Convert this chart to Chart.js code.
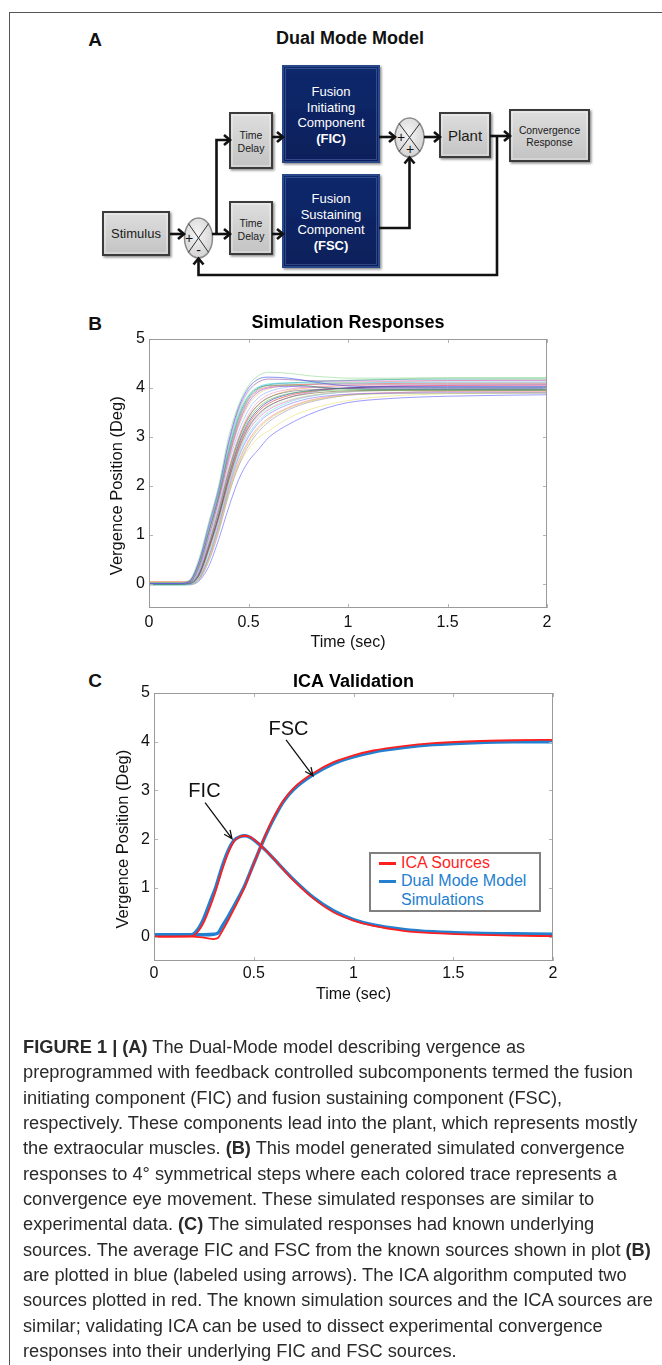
<!DOCTYPE html>
<html>
<head>
<meta charset="utf-8">
<script src="https://cdn.jsdelivr.net/npm/chart.js@4.4.1/dist/chart.umd.min.js"></script>
<style>
  html, body { margin: 0; padding: 0; background: #fff; }
  body { width: 662px; height: 1365px; position: relative; overflow: hidden;
         font-family: 'Liberation Sans', Arial, sans-serif; color: #111; }
  .frame-top { position: absolute; left: 9px; top: 12px; right: 0; border-top: 1.5px solid #555; }
  .frame-left { position: absolute; left: 9px; top: 12px; bottom: 0; border-left: 1.5px solid #555; }
  .plabel { position: absolute; font-weight: bold; font-size: 19px; line-height: 20px;
            transform: translate(-50%, -50%); }
  .ptitle { position: absolute; font-weight: bold; font-size: 18px; line-height: 20px;
            transform: translate(-50%, -50%); white-space: nowrap; }
  canvas { position: absolute; }
  #legendC { position: absolute; left: 369px; top: 852px; width: 172px; height: 60px;
             box-sizing: border-box; border: 2px solid #808080; background: #fff; }
  #legendC .sw { position: absolute; left: 8px; width: 17px; height: 3px; }
  #legendC .tx { position: absolute; left: 30px; font-size: 16px; line-height: 18px; white-space: nowrap; }
  #caption { position: absolute; left: 23px; top: 1035px; font-size: 18px; color: #2a2a2a; }
  #caption div { height: 25.33px; line-height: 25.33px; white-space: nowrap; transform-origin: 0 50%; }
</style>
</head>
<body>
<div class="frame-top"></div>
<div class="frame-left"></div>

<div class="plabel" style="left:95px;top:40px">A</div>
<div class="ptitle" style="left:350px;top:38px">Dual Mode Model</div>
<svg id="diagram" width="662" height="300" style="position:absolute;left:0;top:0"></svg>

<div class="plabel" style="left:95px;top:324px">B</div>
<canvas id="chartB" width="460" height="360" style="left:100px;top:300px"></canvas>

<div class="plabel" style="left:95px;top:681px">C</div>
<canvas id="chartC" width="460" height="360" style="left:104px;top:660px"></canvas>
<div id="legendC">
  <div class="sw" style="top:8px;background:#ff1f1f"></div>
  <div class="tx" style="top:0px;color:#ff1f1f">ICA Sources</div>
  <div class="sw" style="top:26px;background:#2380d0"></div>
  <div class="tx" style="top:18px;color:#2380d0">Dual Mode Model</div>
  <div class="tx" style="top:37px;color:#2380d0">Simulations</div>
</div>

<div id="caption"></div>

<script>
// ---------- panel B: simulated convergence traces ----------
const B_TIMES = [0, 0.15, 0.2, 0.25, 0.3, 0.35, 0.4, 0.45, 0.5, 0.55, 0.6, 0.7, 0.8, 0.9, 1.0, 1.2, 1.5, 2.0];
const B_TRACES = [
  [0.02, 0.02, 0.06, 0.5, 1.25, 2.0, 3.0, 3.65, 4.05, 4.25, 4.32, 4.3, 4.25, 4.22, 4.2, 4.2, 4.21, 4.21],
  [0.0, 0.0, 0.04, 0.45, 1.2, 1.95, 2.9, 3.6, 4.0, 4.18, 4.22, 4.2, 4.14, 4.08, 4.04, 4.02, 4.02, 4.02],
  [0.0, 0.0, 0.03, 0.42, 1.15, 1.9, 2.85, 3.55, 3.95, 4.12, 4.18, 4.17, 4.15, 4.14, 4.14, 4.14, 4.15, 4.15],
  [0.01, 0.01, 0.03, 0.4, 1.1, 1.85, 2.75, 3.45, 3.85, 4.02, 4.08, 4.1, 4.1, 4.1, 4.1, 4.11, 4.12, 4.12],
  [-0.02, -0.02, 0.0, 0.35, 1.05, 1.8, 2.7, 3.4, 3.82, 4.0, 4.05, 4.06, 4.04, 4.0, 3.98, 3.97, 3.97, 3.97],
  [0.03, 0.03, 0.05, 0.38, 1.05, 1.75, 2.6, 3.3, 3.75, 3.95, 4.02, 4.06, 4.07, 4.08, 4.08, 4.09, 4.1, 4.1],
  [0.0, 0.0, 0.02, 0.3, 0.95, 1.7, 2.55, 3.25, 3.7, 3.92, 4.0, 4.03, 4.02, 4.0, 3.99, 3.98, 3.98, 3.98],
  [0.04, 0.04, 0.05, 0.33, 0.98, 1.7, 2.5, 3.2, 3.65, 3.88, 3.98, 4.05, 4.08, 4.1, 4.11, 4.13, 4.15, 4.16],
  [-0.03, -0.03, -0.02, 0.25, 0.9, 1.6, 2.45, 3.1, 3.55, 3.8, 3.92, 4.02, 4.06, 4.08, 4.08, 4.08, 4.08, 4.08],
  [0.0, 0.0, 0.01, 0.25, 0.85, 1.55, 2.35, 3.0, 3.45, 3.72, 3.86, 3.97, 4.02, 4.04, 4.05, 4.06, 4.06, 4.06],
  [0.02, 0.02, 0.03, 0.22, 0.8, 1.5, 2.3, 2.95, 3.4, 3.66, 3.8, 3.92, 3.96, 3.98, 3.99, 4.0, 4.0, 4.0],
  [-0.01, -0.01, 0.0, 0.2, 0.78, 1.45, 2.25, 2.9, 3.35, 3.6, 3.75, 3.88, 3.93, 3.95, 3.96, 3.96, 3.96, 3.96],
  [0.0, 0.0, 0.0, 0.18, 0.75, 1.4, 2.2, 2.85, 3.3, 3.56, 3.72, 3.87, 3.94, 3.98, 4.0, 4.02, 4.02, 4.02],
  [0.01, 0.01, 0.01, 0.18, 0.72, 1.38, 2.15, 2.8, 3.25, 3.52, 3.68, 3.84, 3.92, 3.97, 4.0, 4.03, 4.05, 4.06],
  [0.0, 0.0, 0.0, 0.16, 0.7, 1.35, 2.1, 2.75, 3.2, 3.47, 3.63, 3.8, 3.88, 3.92, 3.94, 3.95, 3.95, 3.95],
  [-0.04, -0.04, -0.04, 0.12, 0.65, 1.3, 2.05, 2.7, 3.15, 3.42, 3.58, 3.75, 3.84, 3.89, 3.92, 3.94, 3.95, 3.95],
  [0.02, 0.02, 0.02, 0.14, 0.66, 1.3, 2.05, 2.68, 3.12, 3.38, 3.55, 3.73, 3.83, 3.89, 3.92, 3.95, 3.96, 3.96],
  [0.0, 0.0, 0.0, 0.12, 0.6, 1.25, 2.0, 2.62, 3.05, 3.32, 3.5, 3.7, 3.82, 3.88, 3.92, 3.96, 3.98, 3.99],
  [0.0, 0.0, 0.0, 0.1, 0.55, 1.2, 1.95, 2.58, 3.0, 3.28, 3.46, 3.66, 3.78, 3.84, 3.87, 3.89, 3.9, 3.9],
  [0.03, 0.03, 0.03, 0.1, 0.52, 1.15, 1.9, 2.5, 2.92, 3.2, 3.38, 3.6, 3.74, 3.82, 3.87, 3.9, 3.92, 3.92],
  [0.0, 0.0, 0.0, 0.08, 0.48, 1.1, 1.85, 2.45, 2.88, 3.16, 3.35, 3.58, 3.72, 3.8, 3.85, 3.88, 3.89, 3.89],
  [-0.02, -0.02, -0.02, 0.06, 0.45, 1.05, 1.8, 2.4, 2.82, 3.1, 3.3, 3.55, 3.7, 3.79, 3.85, 3.9, 3.93, 3.94],
  [0.02, 0.02, 0.02, 0.1, 0.5, 1.1, 1.85, 2.4, 2.75, 2.98, 3.12, 3.38, 3.55, 3.66, 3.74, 3.83, 3.88, 3.91],
  [-0.02, -0.02, -0.02, 0.05, 0.35, 0.9, 1.55, 2.12, 2.5, 2.74, 2.98, 3.25, 3.45, 3.6, 3.7, 3.78, 3.83, 3.86],
  [0.01, 0.01, 0.03, 0.36, 1.05, 1.78, 2.65, 3.35, 3.78, 3.98, 4.06, 4.1, 4.12, 4.14, 4.15, 4.17, 4.18, 4.18],
  [0.0, 0.0, 0.04, 0.4, 1.1, 1.85, 2.8, 3.5, 3.92, 4.12, 4.18, 4.17, 4.15, 4.15, 4.16, 4.18, 4.2, 4.2],
  [0.0, 0.0, 0.0, 0.2, 0.8, 1.5, 2.3, 2.95, 3.4, 3.65, 3.8, 3.94, 4.0, 4.03, 4.05, 4.07, 4.08, 4.08],
  [0.01, 0.01, 0.01, 0.15, 0.68, 1.33, 2.1, 2.72, 3.18, 3.45, 3.62, 3.8, 3.9, 3.96, 4.0, 4.04, 4.06, 4.06]
];
const B_COLORS = ['#8fd88f', '#3050e8', '#c860d8', '#40c8e0', '#2e8b57', '#f06060', '#9050e0',
  '#f0c070', '#80b0ff', '#f090c0', '#707070', '#60c060', '#2030a0', '#e03030', '#707030',
  '#b0e8a0', '#e070e0', '#60e0d0', '#7878ff', '#ff8080', '#c0d050', '#a090c0', '#e8e070',
  '#5a5aff', '#30a0a0', '#a0e0a0', '#f0a050', '#b070f0'];

// ---------- panel C: FIC / FSC sources ----------
const FIC_TIMES = [0, 0.19, 0.22, 0.25, 0.28, 0.31, 0.34, 0.37, 0.4, 0.43, 0.455, 0.48, 0.52, 0.56, 0.6, 0.65, 0.7, 0.8, 0.9, 1.0, 1.1, 1.25, 1.4, 1.6, 1.8, 2.0];
const FIC_ICA = [0.0, 0.01, 0.1, 0.3, 0.6, 0.95, 1.35, 1.7, 1.95, 2.05, 2.07, 2.05, 1.93, 1.77, 1.6, 1.37, 1.15, 0.78, 0.5, 0.33, 0.22, 0.12, 0.07, 0.04, 0.02, 0.01];
const FIC_MODEL = [0.04, 0.04, 0.15, 0.38, 0.7, 1.02, 1.42, 1.75, 1.97, 2.05, 2.07, 2.04, 1.92, 1.77, 1.6, 1.38, 1.17, 0.8, 0.53, 0.35, 0.24, 0.15, 0.1, 0.07, 0.06, 0.05];
const FSC_TIMES = [0, 0.19, 0.25, 0.3, 0.32, 0.34, 0.37, 0.4, 0.43, 0.455, 0.48, 0.52, 0.56, 0.6, 0.65, 0.7, 0.8, 0.9, 1.0, 1.1, 1.25, 1.4, 1.6, 1.8, 2.0];
const FSC_ICA = [0.0, 0.0, -0.02, -0.05, -0.03, 0.1, 0.32, 0.56, 0.8, 1.02, 1.28, 1.7, 2.1, 2.45, 2.8, 3.05, 3.36, 3.58, 3.72, 3.82, 3.91, 3.97, 4.01, 4.03, 4.04];
const FSC_MODEL = [0.04, 0.04, 0.04, 0.05, 0.07, 0.2, 0.4, 0.62, 0.85, 1.05, 1.3, 1.7, 2.08, 2.42, 2.78, 3.02, 3.33, 3.55, 3.69, 3.79, 3.88, 3.94, 3.98, 4.0, 4.0];

// shared axes
const X_RANGE = [0, 2];
const X_TICKS = [0, 0.5, 1, 1.5, 2];
const Y_RANGE = [-0.5, 5];
const Y_TICKS = [0, 1, 2, 3, 4, 5];

// annotation labels in panel C: [text, labelX, labelY, arrowFromX, arrowFromY, arrowToX, arrowToY]
const C_NOTES = [
  ['FIC', 0.253, 2.97, 0.256, 2.75, 0.391, 2.01],
  ['FSC', 0.674, 4.26, 0.662, 4.04, 0.797, 3.30]
];

const CAPTION = [
  '<b>FIGURE 1 | (A)</b> The Dual-Mode model describing vergence as',
  'preprogrammed with feedback controlled subcomponents termed the fusion',
  'initiating component (FIC) and fusion sustaining component (FSC),',
  'respectively. These components lead into the plant, which represents mostly',
  'the extraocular muscles. <b>(B)</b> This model generated simulated convergence',
  'responses to 4° symmetrical steps where each colored trace represents a',
  'convergence eye movement. These simulated responses are similar to',
  'experimental data. <b>(C)</b> The simulated responses had known underlying',
  'sources. The average FIC and FSC from the known sources shown in plot <b>(B)</b>',
  'are plotted in blue (labeled using arrows). The ICA algorithm computed two',
  'sources plotted in red. The known simulation sources and the ICA sources are',
  'similar; validating ICA can be used to dissect experimental convergence',
  'responses into their underlying FIC and FSC sources.'
];

// ---------- panel A block diagram (svg) ----------
(function drawDiagram() {
  const grayBoxes = [
    { x: 103, y: 212, w: 66, h: 43, lines: ['Stimulus'], size: 13, gap: 0 },
    { x: 230, y: 113, w: 42, h: 55, lines: ['Time', 'Delay'], size: 10.5, gap: 13 },
    { x: 230, y: 202, w: 42, h: 52, lines: ['Time', 'Delay'], size: 10.5, gap: 13 },
    { x: 440, y: 113, w: 50, h: 44, lines: ['Plant'], size: 15, gap: 0 },
    { x: 510, y: 110, w: 79, h: 51, lines: ['Convergence', 'Response'], size: 10.3, gap: 12 }
  ];
  const navyBoxes = [
    { x: 283, y: 66, w: 96, h: 96, lines: ['Fusion', 'Initiating', 'Component', '(FIC)'] },
    { x: 283, y: 175, w: 96, h: 92, lines: ['Fusion', 'Sustaining', 'Component', '(FSC)'] }
  ];
  let s = `<defs>
    <linearGradient id="gg" x1="0" y1="0" x2="0" y2="1">
      <stop offset="0" stop-color="#dedede"/><stop offset="1" stop-color="#c3c3c3"/></linearGradient>
    <linearGradient id="ng" x1="0" y1="0" x2="0" y2="1">
      <stop offset="0" stop-color="#10296d"/><stop offset="1" stop-color="#0a1f5a"/></linearGradient>
    <radialGradient id="sg" cx="0.45" cy="0.4" r="0.7">
      <stop offset="0" stop-color="#f4f4f4"/><stop offset="1" stop-color="#cfcfcf"/></radialGradient>
    <filter id="sh" x="-10%" y="-10%" width="130%" height="130%">
      <feDropShadow dx="1.5" dy="1.5" stdDeviation="0.8" flood-color="#000" flood-opacity="0.45"/></filter>
  </defs>`;
  grayBoxes.forEach(b => {
    s += `<rect x="${b.x}" y="${b.y}" width="${b.w}" height="${b.h}" fill="url(#gg)" stroke="#3a3a3a" stroke-width="2" filter="url(#sh)"/>`;
    s += `<rect x="${b.x + 2}" y="${b.y + 2}" width="${b.w - 4}" height="${b.h - 4}" fill="none" stroke="rgba(255,255,255,0.55)" stroke-width="1"/>`;
    const cy = b.y + b.h / 2 + (b.lines.length > 1 ? 1 : 0);
    b.lines.forEach((t, i) => {
      const ty = cy + (i - (b.lines.length - 1) / 2) * b.gap;
      s += `<text x="${b.x + b.w / 2}" y="${ty}" font-size="${b.size}" text-anchor="middle" dominant-baseline="central" fill="#1a1a1a">${t}</text>`;
    });
  });
  navyBoxes.forEach(b => {
    s += `<rect x="${b.x}" y="${b.y}" width="${b.w}" height="${b.h}" fill="url(#ng)" stroke="#2b4688" stroke-width="2" filter="url(#sh)"/>`;
    s += `<rect x="${b.x + 2.5}" y="${b.y + 2.5}" width="${b.w - 5}" height="${b.h - 5}" fill="none" stroke="rgba(120,150,210,0.35)" stroke-width="1"/>`;
    const cy = b.y + b.h / 2 + 1;
    b.lines.forEach((t, i) => {
      const ty = cy + (i - 1.5) * 15.6;
      const bold = i === 3 ? ' font-weight="bold"' : '';
      s += `<text x="${b.x + b.w / 2}" y="${ty}" font-size="13"${bold} text-anchor="middle" dominant-baseline="central" fill="#fff">${t}</text>`;
    });
  });
  // summing junctions
  const sums = [
    { cx: 198.5, cy: 238, rx: 14, ry: 20, signs: [['+', 189, 238], ['-', 198.5, 250]] },
    { cx: 409.5, cy: 137.5, rx: 14.5, ry: 19.5, signs: [['+', 401, 137], ['+', 410, 149]] }
  ];
  sums.forEach(c => {
    s += `<ellipse cx="${c.cx}" cy="${c.cy}" rx="${c.rx}" ry="${c.ry}" fill="url(#sg)" stroke="#8a8a8a" stroke-width="1.5"/>`;
    const dx = c.rx * 0.72, dy = c.ry * 0.72;
    s += `<path d="M${c.cx - dx},${c.cy - dy}L${c.cx + dx},${c.cy + dy}M${c.cx + dx},${c.cy - dy}L${c.cx - dx},${c.cy + dy}" stroke="#333" stroke-width="1"/>`;
    c.signs.forEach(([t, x, y]) => {
      s += `<text x="${x}" y="${y}" font-size="14" text-anchor="middle" dominant-baseline="central" fill="#111">${t}</text>`;
    });
  });
  // connectors
  const lines = [
    'M170,234 L183,234',
    'M212,234 L229,234',
    'M216.5,234 L216.5,140 L229,140',
    'M272,137 L282,137',
    'M272,234 L282,234',
    'M379,137 L394,137',
    'M379,228 L409.5,228 L409.5,158',
    'M424,137 L439,137',
    'M490,136 L509,136',
    'M497,136 L497,275 L198.5,275 L198.5,259'
  ];
  lines.forEach(d => { s += `<path d="${d}" fill="none" stroke="#111" stroke-width="2.6" stroke-linejoin="miter"/>`; });
  const heads = [
    [184, 234, 'r'], [230, 234, 'r'], [230, 140, 'r'], [283, 137, 'r'], [283, 234, 'r'],
    [395, 137, 'r'], [409.5, 157.5, 'u'], [440, 137, 'r'], [510, 136, 'r'], [198.5, 258.5, 'u']
  ];
  heads.forEach(([x, y, dir]) => {
    const d = dir === 'r'
      ? `M${x - 6},${y - 5} L${x},${y} L${x - 6},${y + 5}`
      : `M${x - 5},${y + 6} L${x},${y} L${x + 5},${y + 6}`;
    s += `<path d="${d}" fill="none" stroke="#111" stroke-width="2.6" stroke-linejoin="miter"/>`;
  });
  const svg = document.getElementById('diagram');
  svg.setAttribute('font-family', "'Liberation Sans', Arial, sans-serif");
  svg.innerHTML = s;
})();

// ---------- chart helpers ----------
Chart.defaults.font.family = "'Liberation Sans', Arial, sans-serif";
Chart.defaults.color = '#111';

const matlabBox = {
  id: 'matlabBox',
  afterDatasetsDraw(chart) {
    const { ctx, chartArea: a, scales: { x, y } } = chart;
    ctx.save();
    ctx.lineWidth = 1;
    ctx.strokeStyle = '#b4b4b4';
    ctx.beginPath();
    x.ticks.forEach(t => {
      const px = Math.round(x.getPixelForValue(t.value)) + 0.5;
      ctx.moveTo(px, a.bottom); ctx.lineTo(px, a.bottom - 4);
      ctx.moveTo(px, a.top); ctx.lineTo(px, a.top + 4);
    });
    y.ticks.forEach(t => {
      const py = Math.round(y.getPixelForValue(t.value)) + 0.5;
      ctx.moveTo(a.left, py); ctx.lineTo(a.left + 4, py);
      ctx.moveTo(a.right, py); ctx.lineTo(a.right - 4, py);
    });
    ctx.stroke();
    ctx.strokeStyle = '#9a9a9a';
    ctx.strokeRect(Math.round(a.left) + 0.5, Math.round(a.top) + 0.5,
      Math.round(a.width) - 1, Math.round(a.height) - 1);
    ctx.restore();
  }
};

// rotated y-axis title, centred on a chosen axis value (as in the original figure)
const yAxisTitle = {
  id: 'yAxisTitle',
  afterDraw(chart, args, opts) {
    const { ctx, scales: { y } } = chart;
    ctx.save();
    ctx.font = "16.5px 'Liberation Sans', Arial, sans-serif";
    ctx.fillStyle = '#111';
    ctx.textAlign = 'center';
    ctx.textBaseline = 'middle';
    ctx.translate(opts.x, y.getPixelForValue(opts.at));
    ctx.rotate(-Math.PI / 2);
    ctx.fillText(opts.text, 0, 0);
    ctx.restore();
  }
};

const arrowNotes = {
  id: 'arrowNotes',
  afterDraw(chart, args, opts) {
    if (!opts.notes) return;
    const { ctx, scales: { x, y } } = chart;
    ctx.save();
    ctx.fillStyle = '#111';
    ctx.strokeStyle = '#111';
    ctx.lineWidth = 1.3;
    ctx.font = "20px 'Liberation Sans', Arial, sans-serif";
    ctx.textAlign = 'center';
    ctx.textBaseline = 'middle';
    opts.notes.forEach(([text, lx, ly, fx, fy, tx, ty]) => {
      ctx.fillText(text, x.getPixelForValue(lx), y.getPixelForValue(ly));
      const x0 = x.getPixelForValue(fx), y0 = y.getPixelForValue(fy);
      const x1 = x.getPixelForValue(tx), y1 = y.getPixelForValue(ty);
      const ang = Math.atan2(y1 - y0, x1 - x0);
      ctx.beginPath();
      ctx.moveTo(x0, y0); ctx.lineTo(x1, y1);
      ctx.moveTo(x1 - 9 * Math.cos(ang - 0.42), y1 - 9 * Math.sin(ang - 0.42));
      ctx.lineTo(x1, y1);
      ctx.lineTo(x1 - 9 * Math.cos(ang + 0.42), y1 - 9 * Math.sin(ang + 0.42));
      ctx.stroke();
    });
    ctx.restore();
  }
};

function toPoints(times, values) {
  return values.map((v, i) => ({ x: times[i], y: v }));
}

function panelOptions(p) {
  return {
    responsive: false,
    animation: false,
    events: [],
    layout: { padding: { left: 0, right: p.padRight, top: 0, bottom: 0 } },
    elements: { point: { radius: 0 } },
    plugins: {
      legend: { display: false },
      tooltip: { enabled: false },
      title: {
        display: true, text: p.title, fullSize: false, color: '#000',
        font: { size: 18, weight: 'bold' }, padding: p.titlePad
      },
      arrowNotes: { notes: p.notes },
      yAxisTitle: { text: 'Vergence Position (Deg)', x: p.yTitleX, at: 2 }
    },
    scales: {
      x: {
        type: 'linear', min: X_RANGE[0], max: X_RANGE[1],
        afterBuildTicks: s => { s.ticks = X_TICKS.map(v => ({ value: v })); },
        afterFit: s => { s.height = p.xHeight; },
        grid: { display: false, drawTicks: false },
        border: { display: false },
        ticks: { font: { size: 16 }, color: '#111', padding: p.xTickPad, maxRotation: 0,
                 autoSkip: false, callback: v => String(v) },
        title: { display: true, text: 'Time (sec)', font: { size: 16 }, color: '#111',
                 padding: { top: 0, bottom: p.xTitlePad } }
      },
      y: {
        type: 'linear', min: Y_RANGE[0], max: Y_RANGE[1],
        afterBuildTicks: s => { s.ticks = Y_TICKS.map(v => ({ value: v })); },
        afterFit: s => { s.width = p.yWidth; },
        grid: { display: false, drawTicks: false },
        border: { display: false },
        ticks: { font: { size: 16 }, color: '#111', padding: 4, autoSkip: false,
                 callback: v => String(v) },
        title: { display: false }
      }
    }
  };
}

// ---------- panel B ----------
new Chart(document.getElementById('chartB'), {
  type: 'line',
  data: {
    datasets: B_TRACES.map((vals, i) => ({
      data: toPoints(B_TIMES, vals),
      borderColor: B_COLORS[i % B_COLORS.length] + '99',
      borderWidth: 1,
      cubicInterpolationMode: 'monotone',
      fill: false
    }))
  },
  options: panelOptions({
    title: 'Simulation Responses', padRight: 13, titlePad: { top: 12.2, bottom: 5.2 },
    xHeight: 52, xTickPad: 5, xTitlePad: 7.4, yWidth: 49, yTitleX: 17, notes: null
  }),
  plugins: [matlabBox, arrowNotes, yAxisTitle]
});

// ---------- panel C ----------
const RED = '#ff1f1f', BLUE = '#2380d0';
new Chart(document.getElementById('chartC'), {
  type: 'line',
  data: {
    datasets: [
      { label: 'ICA Sources', data: toPoints(FIC_TIMES, FIC_ICA), borderColor: RED, borderWidth: 1.8 },
      { label: 'ICA Sources', data: toPoints(FSC_TIMES, FSC_ICA), borderColor: RED, borderWidth: 1.8 },
      { label: 'Dual Mode Model Simulations', data: toPoints(FIC_TIMES, FIC_MODEL), borderColor: BLUE, borderWidth: 3.4 },
      { label: 'Dual Mode Model Simulations', data: toPoints(FSC_TIMES, FSC_MODEL), borderColor: BLUE, borderWidth: 3.4 }
    ].map(d => Object.assign(d, { cubicInterpolationMode: 'monotone', fill: false }))
  },
  options: panelOptions({
    title: 'ICA Validation', padRight: 11, titlePad: { top: 11.2, bottom: 0.2 },
    xHeight: 59, xTickPad: 3, xTitlePad: 15.4, yWidth: 50, yTitleX: 19, notes: C_NOTES
  }),
  plugins: [matlabBox, arrowNotes, yAxisTitle]
});

// ---------- caption ----------
const cap = document.getElementById('caption');
CAPTION.forEach(html => {
  const d = document.createElement('div');
  d.innerHTML = '<span>' + html + '</span>';
  cap.appendChild(d);
});
const ref = cap.children[1].firstChild.getBoundingClientRect().width;
const k = 610 / ref;
Array.from(cap.children).forEach(d => { d.style.transform = 'scaleX(' + k.toFixed(4) + ')'; });
</script>
</body>
</html>
